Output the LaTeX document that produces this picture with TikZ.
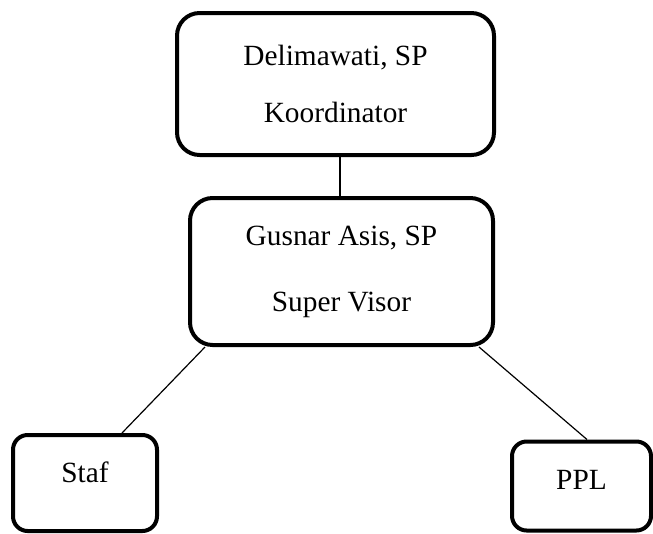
\documentclass[tikz,border=0pt]{standalone}
\usepackage{fontspec}
\setmainfont{Liberation Serif}
\usetikzlibrary{positioning}

\begin{document}
\begin{tikzpicture}[x=.75pt,y=-.75pt,
 box/.style={draw,line width=3pt,rounded corners=17pt,fill=white,align=center,font=\fontsize{22}{26}\selectfont},
 smallbox/.style={box,rounded corners=11pt},
 link/.style={line width=.9pt}]
\useasboundingbox (0,0) rectangle (653,533);
\node[box,minimum width=237.75pt,minimum height=106.5pt](koord) at (335.5,84) {Delimawati, SP\\[16.75pt]Koordinator};
\node[box,minimum width=227.25pt,minimum height=110.25pt](super) at (341.5,271.5) {Gusnar Asis, SP\\[23.5pt]Super Visor};
\node[smallbox,minimum width=108pt,minimum height=72pt,text depth=16.5pt](staf) at (85,483) {Staf};
\node[smallbox,minimum width=104.25pt,minimum height=66.75pt,text depth=9pt](ppl) at (581.5,486) {PPL};
\draw[link]([shift={(4.5,0)}]koord.south)--([shift={(-1.5,0)}]super.north);
\draw[link]([shift={(17,0)}]super.south west)--([shift={(-37,0)}]staf.north east);
\draw[link]([shift={(-16,0)}]super.south east)--([shift={(5.5,0)}]ppl.north);
\end{tikzpicture}
\end{document}
